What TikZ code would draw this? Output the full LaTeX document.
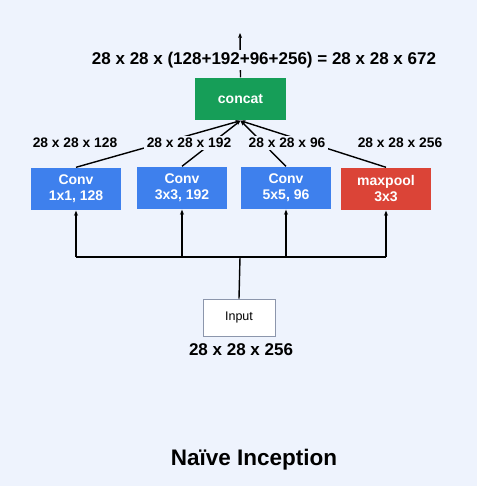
\documentclass[tikz,border=0pt]{standalone}
\usepackage{fontspec}
\setmainfont{Liberation Sans}
\usetikzlibrary{arrows.meta}
\definecolor{bgblue}{RGB}{238,243,253}
\definecolor{convblue}{RGB}{62,128,237}
\definecolor{catgreen}{RGB}{22,158,88}
\definecolor{poolred}{RGB}{219,68,55}
\definecolor{inputgray}{RGB}{140,150,172}
\begin{document}
\begin{tikzpicture}[x=1pt, y=-1pt, line width=1.4pt, >={Stealth[length=5pt, width=4pt]},
  block/.style={fill=convblue, text=white, font=\bfseries\fontsize{14}{16}\selectfont, minimum width=90pt, minimum height=42pt, align=center, inner sep=0pt},
  dim/.style={fill=bgblue, font=\bfseries\fontsize{13.8}{15}\selectfont, inner sep=2.5pt}]
 \fill[bgblue] (0,0) rectangle (477,486);
 \useasboundingbox (0,0) rectangle (477,486);
%
 \node[block] (c1) at (76,189) {Conv\\1x1, 128};
 \node[block] (c2) at (182,188) {Conv\\3x3, 192};
 \node[block] (c3) at (286,188) {Conv\\5x5, 96};
 \node[block, fill=poolred] (c4) at (386,189) {maxpool\\3x3};
 \node[block, fill=catgreen, minimum width=91pt] (cat) at (240.5,99) {concat};
 \node[draw=inputgray, fill=white, line width=0.8pt, minimum width=72pt, minimum height=37pt, font=\fontsize{12.5}{14}\selectfont] (in) at (239,317.5) {Input};
%
 \coordinate (bus) at (240,257);
 \coordinate (out) at (240,33);
 \draw (in.north) -- (bus);
 \draw (c1.south |- bus) -- (c4.south |- bus);
 \foreach \b in {c1,c2,c3,c4} \draw[->] (\b.south |- bus) -- (\b.south);
 \foreach \b in {c1,c2,c3,c4} \draw[->] (\b.north) -- (cat.south);
 \draw[->] (cat.north) -- (out);
%
 \node[dim, font=\bfseries\fontsize{17}{19}\selectfont] (sum) at (264,60) {28 x 28 x (128+192+96+256) = 28 x 28 x 672};
 \node[dim] (d1) at (75,143) {28 x 28 x 128};
 \node[dim] (d2) at (189,143) {28 x 28 x 192};
 \node[dim] (d3) at (287,143) {28 x 28 x 96};
 \node[dim] (d4) at (400,143) {28 x 28 x 256};
 \node[dim, font=\bfseries\fontsize{17}{19}\selectfont] (din) at (241,350) {28 x 28 x 256};
 \node[font=\bfseries\fontsize{22.5}{24}\selectfont] (title) at (254,460) {Naïve Inception};
\end{tikzpicture}
\end{document}
